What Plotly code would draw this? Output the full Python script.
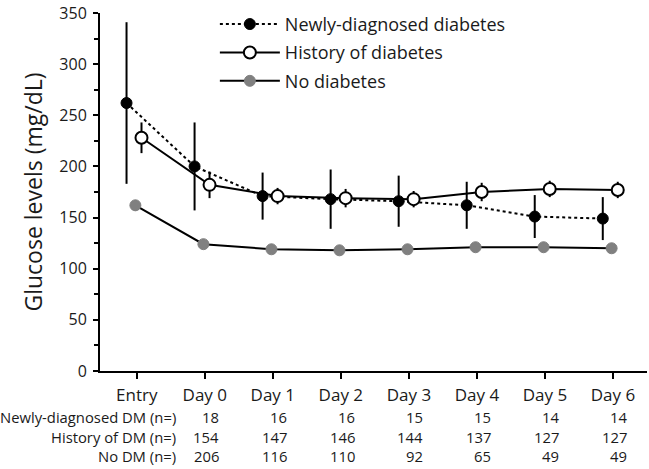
import plotly.graph_objects as go

categories = ["Entry", "Day 0", "Day 1", "Day 2", "Day 3", "Day 4", "Day 5", "Day 6"]

newly_mean = [262, 200, 171, 168, 166, 162, 151, 149]
newly_err = [79, 43, 23, 29, 25, 23, 21, 21]

history_mean = [228, 182, 171, 169, 168, 175, 178, 177]
history_err = [15, 13, 8, 9, 8, 9, 8, 8]

nodm_mean = [162, 124, 119, 118, 119, 121, 121, 120]
nodm_err = [5, 3, 2, 2, 4, 3, 4, 3]

table_days = ["Day 0", "Day 1", "Day 2", "Day 3", "Day 4", "Day 5", "Day 6"]
table_rows = ["Newly-diagnosed DM (n=)", "History of DM (n=)", "No DM (n=)"]
n_newly = [18, 16, 16, 15, 15, 14, 14]
n_history = [154, 147, 146, 144, 137, 127, 127]
n_nodm = [206, 116, 110, 92, 65, 49, 49]

FONT = "Open Sans"
TXT = "#1a1a1a"

idx = list(range(len(categories)))

fig = go.Figure()

fig.add_trace(go.Scatter(
    x=[i - 0.15 for i in idx], y=newly_mean,
    mode="lines+markers", name="Newly-diagnosed diabetes", legendgroup="a",
    line=dict(color="black", width=2, dash="dot"),
    marker=dict(color="black", size=11, line=dict(color="black", width=1)),
    error_y=dict(type="data", array=newly_err, visible=True, color="black", thickness=2, width=0),
))
fig.add_trace(go.Scatter(
    x=[i + 0.07 for i in idx], y=history_mean,
    mode="lines+markers", name="History of diabetes", legendgroup="b",
    line=dict(color="black", width=2),
    marker=dict(color="white", size=12, line=dict(color="black", width=2)),
    error_y=dict(type="data", array=history_err, visible=True, color="black", thickness=2, width=0),
))
fig.add_trace(go.Scatter(
    x=[i - 0.02 for i in idx], y=nodm_mean,
    mode="lines+markers", name="No diabetes", legendgroup="c",
    line=dict(color="black", width=2),
    marker=dict(color="#808080", size=11, line=dict(color="#808080", width=1)),
    error_y=dict(type="data", array=nodm_err, visible=True, color="black", thickness=2, width=0),
))

# table below axis
row_ypix = [418, 438, 457]
plot_top, plot_bottom = 7, 371
ph = plot_bottom - plot_top
for r, (label, vals) in enumerate(zip(table_rows, [n_newly, n_history, n_nodm])):
    yp = (plot_bottom - row_ypix[r]) / ph
    fig.add_annotation(x=0.6, y=yp, xref="x", yref="paper", text=label,
                       showarrow=False, xanchor="right", yanchor="middle",
                       font=dict(family=FONT, size=14.8, color=TXT))
    for d, v in zip(table_days, vals):
        fig.add_annotation(x=categories.index(d) + 0.24, y=yp, xref="x", yref="paper",
                           text=str(v), showarrow=False, xanchor="right", yanchor="middle",
                           font=dict(family=FONT, size=14.8, color=TXT))

fig.update_layout(
    width=649, height=469,
    margin=dict(l=100, r=2, t=plot_top, b=469 - plot_bottom),
    plot_bgcolor="white", paper_bgcolor="white",
    font=dict(family=FONT, color=TXT),
    showlegend=True,
    legend=dict(x=0.21, y=1.02, xanchor="left", yanchor="top",
                font=dict(family=FONT, size=18, color=TXT), itemwidth=60,
                tracegroupgap=2,
                bgcolor="rgba(0,0,0,0)", traceorder="grouped"),
    xaxis=dict(range=[-0.54, 7.5], tickvals=idx, ticktext=categories,
               showline=True, linewidth=2, linecolor="black",
               ticks="outside", ticklen=6, tickwidth=2, tickcolor="black",
               showgrid=False, zeroline=False, ticklabelstandoff=2,
               tickfont=dict(family=FONT, size=17, color=TXT)),
    yaxis=dict(range=[0, 350], tickvals=list(range(0, 351, 50)),
               showline=True, linewidth=2, linecolor="black",
               ticks="outside", ticklen=5, tickwidth=2, tickcolor="black",
               ticklabeloverflow="allow", ticklabelstandoff=3,
               minor=dict(tickvals=list(range(25, 350, 50)), ticks="outside", ticklen=4, tickwidth=1.5, tickcolor="black"),
               showgrid=False, zeroline=False,
               tickfont=dict(family=FONT, size=16, color=TXT),
               title=dict(text="Glucose levels (mg/dL)", font=dict(family=FONT, size=23, color=TXT), standoff=10)),
)

fig.write_html("out.html", config={"displayModeBar": False},
               post_script="document.body.style.margin='0';")
